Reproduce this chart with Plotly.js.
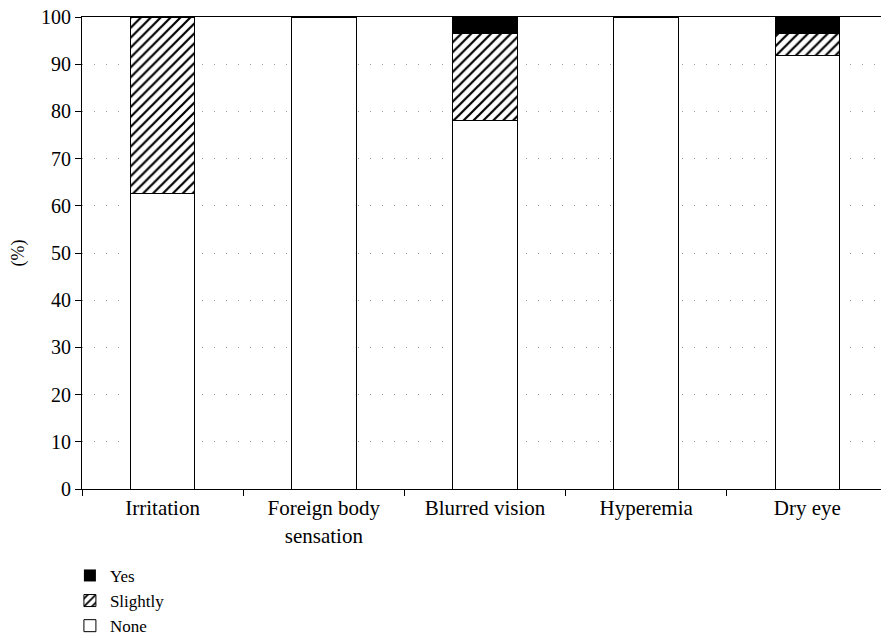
<!DOCTYPE html>
<html>
<head>
<meta charset="utf-8">
<script src="https://cdn.plot.ly/plotly-3.0.1.min.js"></script>
<style>
html,body{margin:0;padding:0;overflow:hidden;background:#fff;}
#chart{width:890px;height:639px;}
</style>
</head>
<body>
<div id="chart"></div>
<script>
var categories = ["Irritation", "Foreign body<br>sensation", "Blurred vision", "Hyperemia", "Dry eye"];
var noneVals = [62.7, 100, 78.0, 100, 91.9];
var slightlyVals = [37.3, 0, 18.4, 0, 4.5];
var yesVals = [0, 0, 3.6, 0, 3.6];
var yTicks = [0, 10, 20, 30, 40, 50, 60, 70, 80, 90, 100];

function outline(vals) {
  return {color: "#000", width: vals.map(function (v) { return v > 0 ? 1 : 0; })};
}
var traces = [
  {type: "bar", name: "None", x: categories, y: noneVals,
   marker: {color: "#fff", line: outline(noneVals)}, width: 0.4},
  {type: "bar", name: "Slightly", x: categories, y: slightlyVals,
   marker: {color: "#fff", line: outline(slightlyVals),
            pattern: {shape: "/", fgcolor: "#000", bgcolor: "#fff", size: 7, solidity: 0.32}}, width: 0.4},
  {type: "bar", name: "Yes", x: categories, y: yesVals,
   marker: {color: "#000", line: outline(yesVals)}, width: 0.4}
];

var FONT = "Liberation Serif";
var layout = {
  width: 890, height: 639,
  margin: {l: 82, r: 2, t: 17, b: 150, autoexpand: false},
  barmode: "stack",
  paper_bgcolor: "#fff", plot_bgcolor: "#fff",
  font: {family: FONT, size: 20, color: "#000"},
  showlegend: true,
  legend: {x: -0.015, y: -0.146, xanchor: "left", yanchor: "top", traceorder: "reversed",
           font: {family: FONT, size: 17}, itemwidth: 30, bgcolor: "rgba(0,0,0,0)"},
  xaxis: {
    type: "category", tickson: "boundaries", ticks: "outside", ticklen: 6, tickcolor: "#000",
    showline: true, linecolor: "#000", linewidth: 1, mirror: true,
    showgrid: false, zeroline: false, tickfont: {family: FONT, size: 21}
  },
  yaxis: {
    range: [0, 100], tickvals: yTicks, ticks: "outside", ticklen: 6, tickcolor: "#000",
    showline: true, linecolor: "#000", linewidth: 1,
    showgrid: true, gridcolor: "#999", griddash: "1px,11px", gridwidth: 1,
    zeroline: false, tickfont: {family: FONT, size: 20},
    title: {text: "(%)", font: {family: FONT, size: 18}, standoff: 11}
  }
};

Plotly.newPlot("chart", traces, layout, {displayModeBar: false, staticPlot: true});
</script>
</body>
</html>
